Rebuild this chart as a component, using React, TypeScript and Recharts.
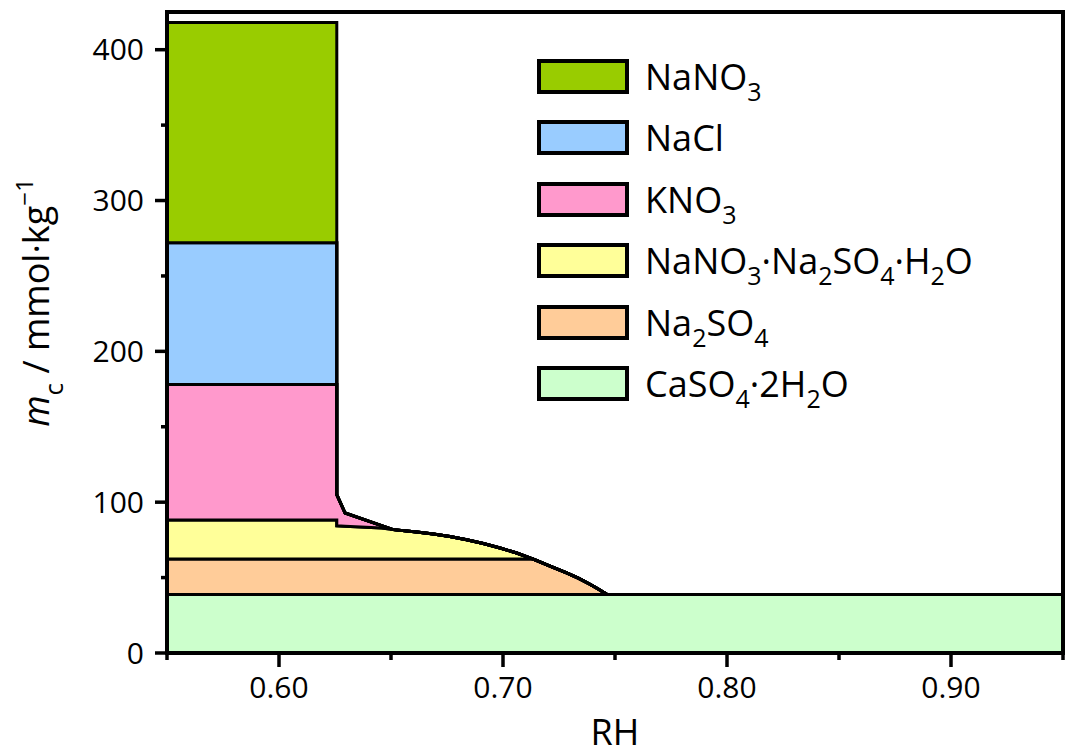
import React from 'react';
import { AreaChart, Area, XAxis, YAxis, ReferenceArea, Label } from 'recharts';

const FONT = "'Open Sans', 'DejaVu Sans', sans-serif";

// RH sample points (x); 0.6258 appears twice to make vertical edges
const rh = [0.55, 0.6258, 0.6258, 0.6295, 0.6458, 0.651, 0.6615, 0.6689, 0.6763, 0.6838, 0.6912, 0.6987, 0.7061, 0.7135, 0.721, 0.7284, 0.7336, 0.7388, 0.7425, 0.7465, 0.95];

// upper boundary of each phase region (mmol/kg), cumulative
const topCaSO4 = [38.8, 38.8, 38.8, 38.8, 38.8, 38.8, 38.8, 38.8, 38.8, 38.8, 38.8, 38.8, 38.8, 38.8, 38.8, 38.8, 38.8, 38.8, 38.8, 38.8, 38.8];
const topNa2SO4 = [62.3, 62.3, 62.3, 62.3, 62.3, 62.3, 62.3, 62.3, 62.3, 62.3, 62.3, 62.3, 62.3, 62.3, 57.6, 53.1, 49.6, 45.6, 42.4, 38.8, 38.8];
const topDouble = [88.2, 88.2, 84.4, 84.1, 82.9, 81.8, 80.2, 78.9, 77.3, 75.1, 72.6, 69.6, 66.3, 62.3, 57.6, 53.1, 49.6, 45.6, 42.4, 38.8, 38.8];
const topKNO3 = [178, 178, 105, 92.8, 84.4, 81.8, 80.2, 78.9, 77.3, 75.1, 72.6, 69.6, 66.3, 62.3, 57.6, 53.1, 49.6, 45.6, 42.4, 38.8, 38.8];
const topNaCl = [272, 272, 105, 92.8, 84.4, 81.8, 80.2, 78.9, 77.3, 75.1, 72.6, 69.6, 66.3, 62.3, 57.6, 53.1, 49.6, 45.6, 42.4, 38.8, 38.8];
const topNaNO3 = [418, 418, 105, 92.8, 84.4, 81.8, 80.2, 78.9, 77.3, 75.1, 72.6, 69.6, 66.3, 62.3, 57.6, 53.1, 49.6, 45.6, 42.4, 38.8, 38.8];
const bottom = rh.map(() => 0);

const phaseNames = ['CaSO4·2H2O', 'Na2SO4', 'NaNO3·Na2SO4·H2O', 'KNO3', 'NaCl', 'NaNO3'];
const phaseColors = ['#CCFFCC', '#FFCC99', '#FFFF99', '#FF99CC', '#99CCFF', '#99CC00'];
const boundaries = [bottom, topCaSO4, topNa2SO4, topDouble, topKNO3, topNaCl, topNaNO3];

const xMajorTicks = [0.6, 0.7, 0.8, 0.9];
const xMinorTicks = [0.55, 0.65, 0.75, 0.85, 0.95];
const yMajorTicks = [0, 100, 200, 300, 400];
const yMinorTicks = [50, 150, 250, 350];

const rows = rh.map((x, i) => {
  const row: any = { rh: x };
  phaseNames.forEach((_, k) => {
    row['p' + k] = [boundaries[k][i], boundaries[k + 1][i]];
  });
  return row;
});

const isIn = (arr: number[], v: number) => arr.some((t) => Math.abs(t - v) < 1e-9);

const XTick = (props: any) => {
  const { x, y, payload } = props;
  const major = isIn(xMajorTicks, payload.value);
  return (
    <g>
      <line x1={x} y1={y} x2={x} y2={y + (major ? 14 : 7)} stroke="#000" strokeWidth={3.5} />
      {major && (
        <text x={x} y={y + 45} textAnchor="middle" fontFamily={FONT} fontSize={30} fill="#000">
          {payload.value.toFixed(2)}
        </text>
      )}
    </g>
  );
};

const YTick = (props: any) => {
  const { x, y, payload } = props;
  const major = isIn(yMajorTicks, payload.value);
  return (
    <g>
      <line x1={x} y1={y} x2={x - (major ? 12 : 6)} y2={y} stroke="#000" strokeWidth={3.5} />
      {major && (
        <text x={x - 23} y={y + 10.5} textAnchor="end" fontFamily={FONT} fontSize={30} fill="#000">
          {payload.value}
        </text>
      )}
    </g>
  );
};

const YLabel = (props: any) => {
  const vb = props.viewBox || { x: 0, y: 12, width: 167, height: 641 };
  const cx = 49;
  const cy = vb.y + vb.height / 2 - 30;
  return (
    <text x={cx} y={cy} transform={`rotate(-90 ${cx} ${cy})`} textAnchor="middle" fontFamily={FONT} fontSize={36} fill="#000">
      <tspan fontStyle="italic">m</tspan>
      <tspan fontSize={26} dy={14}>c</tspan>
      <tspan dy={-14}> / mmol·kg</tspan>
      <tspan fontSize={24} dy={-16}>−1</tspan>
    </text>
  );
};

const XLabel = (props: any) => {
  const vb = props.viewBox || { x: 167, y: 653, width: 896, height: 103 };
  return (
    <text x={vb.x + vb.width / 2} y={vb.y + 92} textAnchor="middle" fontFamily={FONT} fontSize={36} fill="#000">
      RH
    </text>
  );
};

const Formula = ({ text }: { text: string }) => {
  const parts: React.ReactNode[] = [];
  for (let i = 0; i < text.length; i++) {
    const ch = text[i];
    const prev = i > 0 ? text[i - 1] : '';
    if (/[0-9]/.test(ch) && /[A-Za-z]/.test(prev)) {
      parts.push(
        <span key={i} style={{ fontSize: 25, position: 'relative', top: 11 }}>
          {ch}
        </span>
      );
    } else {
      parts.push(<span key={i}>{ch}</span>);
    }
  }
  return <>{parts}</>;
};

export default function App() {
  const legendOrder = phaseNames.map((n, k) => ({ name: n, color: phaseColors[k] })).reverse();
  return (
    <div style={{ position: 'absolute', left: 0, top: 0, width: 1070, height: 756, background: '#fff' }}>
      <AreaChart width={1070} height={756} data={rows} margin={{ top: 12, right: 7, left: 0, bottom: 0 }}>
        <XAxis
          dataKey="rh"
          type="number"
          domain={[0.55, 0.95]}
          ticks={[...xMinorTicks, ...xMajorTicks].sort((a, b) => a - b)}
          interval={0}
          tickSize={0}
          tickMargin={0}
          tickLine={false}
          tick={<XTick />}
          axisLine={{ stroke: '#000', strokeWidth: 4 }}
          height={103}
          allowDataOverflow
        >
          <Label content={<XLabel />} />
        </XAxis>
        <YAxis
          type="number"
          domain={[0, 425]}
          ticks={[...yMinorTicks, ...yMajorTicks].sort((a, b) => a - b)}
          interval={0}
          tickSize={0}
          tickMargin={0}
          tickLine={false}
          tick={<YTick />}
          axisLine={{ stroke: '#000', strokeWidth: 4 }}
          width={167}
          allowDataOverflow
        >
          <Label content={<YLabel />} />
        </YAxis>
        {phaseNames.map((name, k) => (
          <Area
            key={name}
            name={name}
            dataKey={'p' + k}
            type="linear"
            fill={phaseColors[k]}
            fillOpacity={1}
            stroke="#000"
            strokeWidth={3}
            dot={false}
            activeDot={false}
            isAnimationActive={false}
          />
        ))}
        <ReferenceArea x1={0.55} x2={0.95} y1={0} y2={425} fill="none" stroke="#000" strokeWidth={4} ifOverflow="visible" />
      </AreaChart>
      <div style={{ position: 'absolute', left: 537, top: 59, fontFamily: FONT, color: '#000' }}>
        {legendOrder.map((item, i) => (
          <div key={item.name} style={{ position: 'absolute', left: 0, top: i * 61.4, height: 35, width: 520, whiteSpace: 'nowrap' }}>
            <div
              style={{
                position: 'absolute',
                left: 0,
                top: 0,
                width: 92,
                height: 35,
                boxSizing: 'border-box',
                border: '4px solid #000',
                background: item.color,
              }}
            />
            <div style={{ position: 'absolute', left: 108, top: 0, fontSize: 36, lineHeight: '35px' }}>
              <Formula text={item.name} />
            </div>
          </div>
        ))}
      </div>
    </div>
  );
}
